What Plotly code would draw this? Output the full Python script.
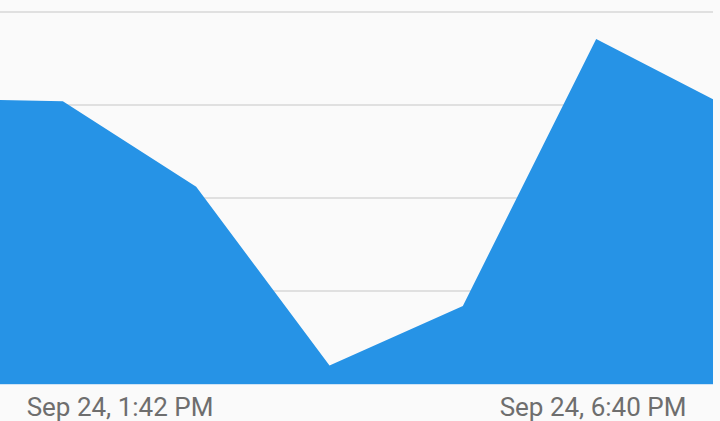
import plotly.graph_objects as go

times = ["2023-09-24 11:42", "2023-09-24 13:06", "2023-09-24 14:30", "2023-09-24 15:54",
         "2023-09-24 17:18", "2023-09-24 18:42", "2023-09-24 20:06"]
values = [30.7, 30.4, 21.2, 2.0, 8.4, 37.1, 29.7]
tick_times = ["2023-09-24 13:42", "2023-09-24 18:40"]
tick_labels = ["Sep 24, 1:42 PM", "Sep 24, 6:40 PM"]

fig = go.Figure()
fig.add_trace(go.Scatter(
    x=times, y=values, mode="lines", fill="tozeroy",
    line=dict(width=0, color="#2693e6"), fillcolor="#2693e6",
    hoverinfo="skip", showlegend=False,
))

fig.update_layout(
    width=720, height=421,
    margin=dict(l=0, r=7, t=10, b=37),
    paper_bgcolor="#fafafa", plot_bgcolor="#fafafa",
    font=dict(family="Roboto", size=26, color="#6e6e6e"),
    xaxis=dict(
        type="date",
        range=["2023-09-24 12:26:24", "2023-09-24 19:55:36"],
        tickvals=tick_times, ticktext=tick_labels,
        showgrid=False, zeroline=False, showline=True,
        linecolor="#cfe3f5", linewidth=1, ticks="", ticklen=0,
        tickfont=dict(size=26, color="#6e6e6e"),
    ),
    yaxis=dict(
        range=[0, 40.22], dtick=10, showticklabels=False,
        showgrid=True, gridcolor="#e0e0e0", gridwidth=2,
        zeroline=False, showline=False, fixedrange=True,
    ),
)

fig.write_html("out.html", config={"displayModeBar": False},
               post_script="document.body.style.margin='0px';document.body.style.background='#fafafa';")
